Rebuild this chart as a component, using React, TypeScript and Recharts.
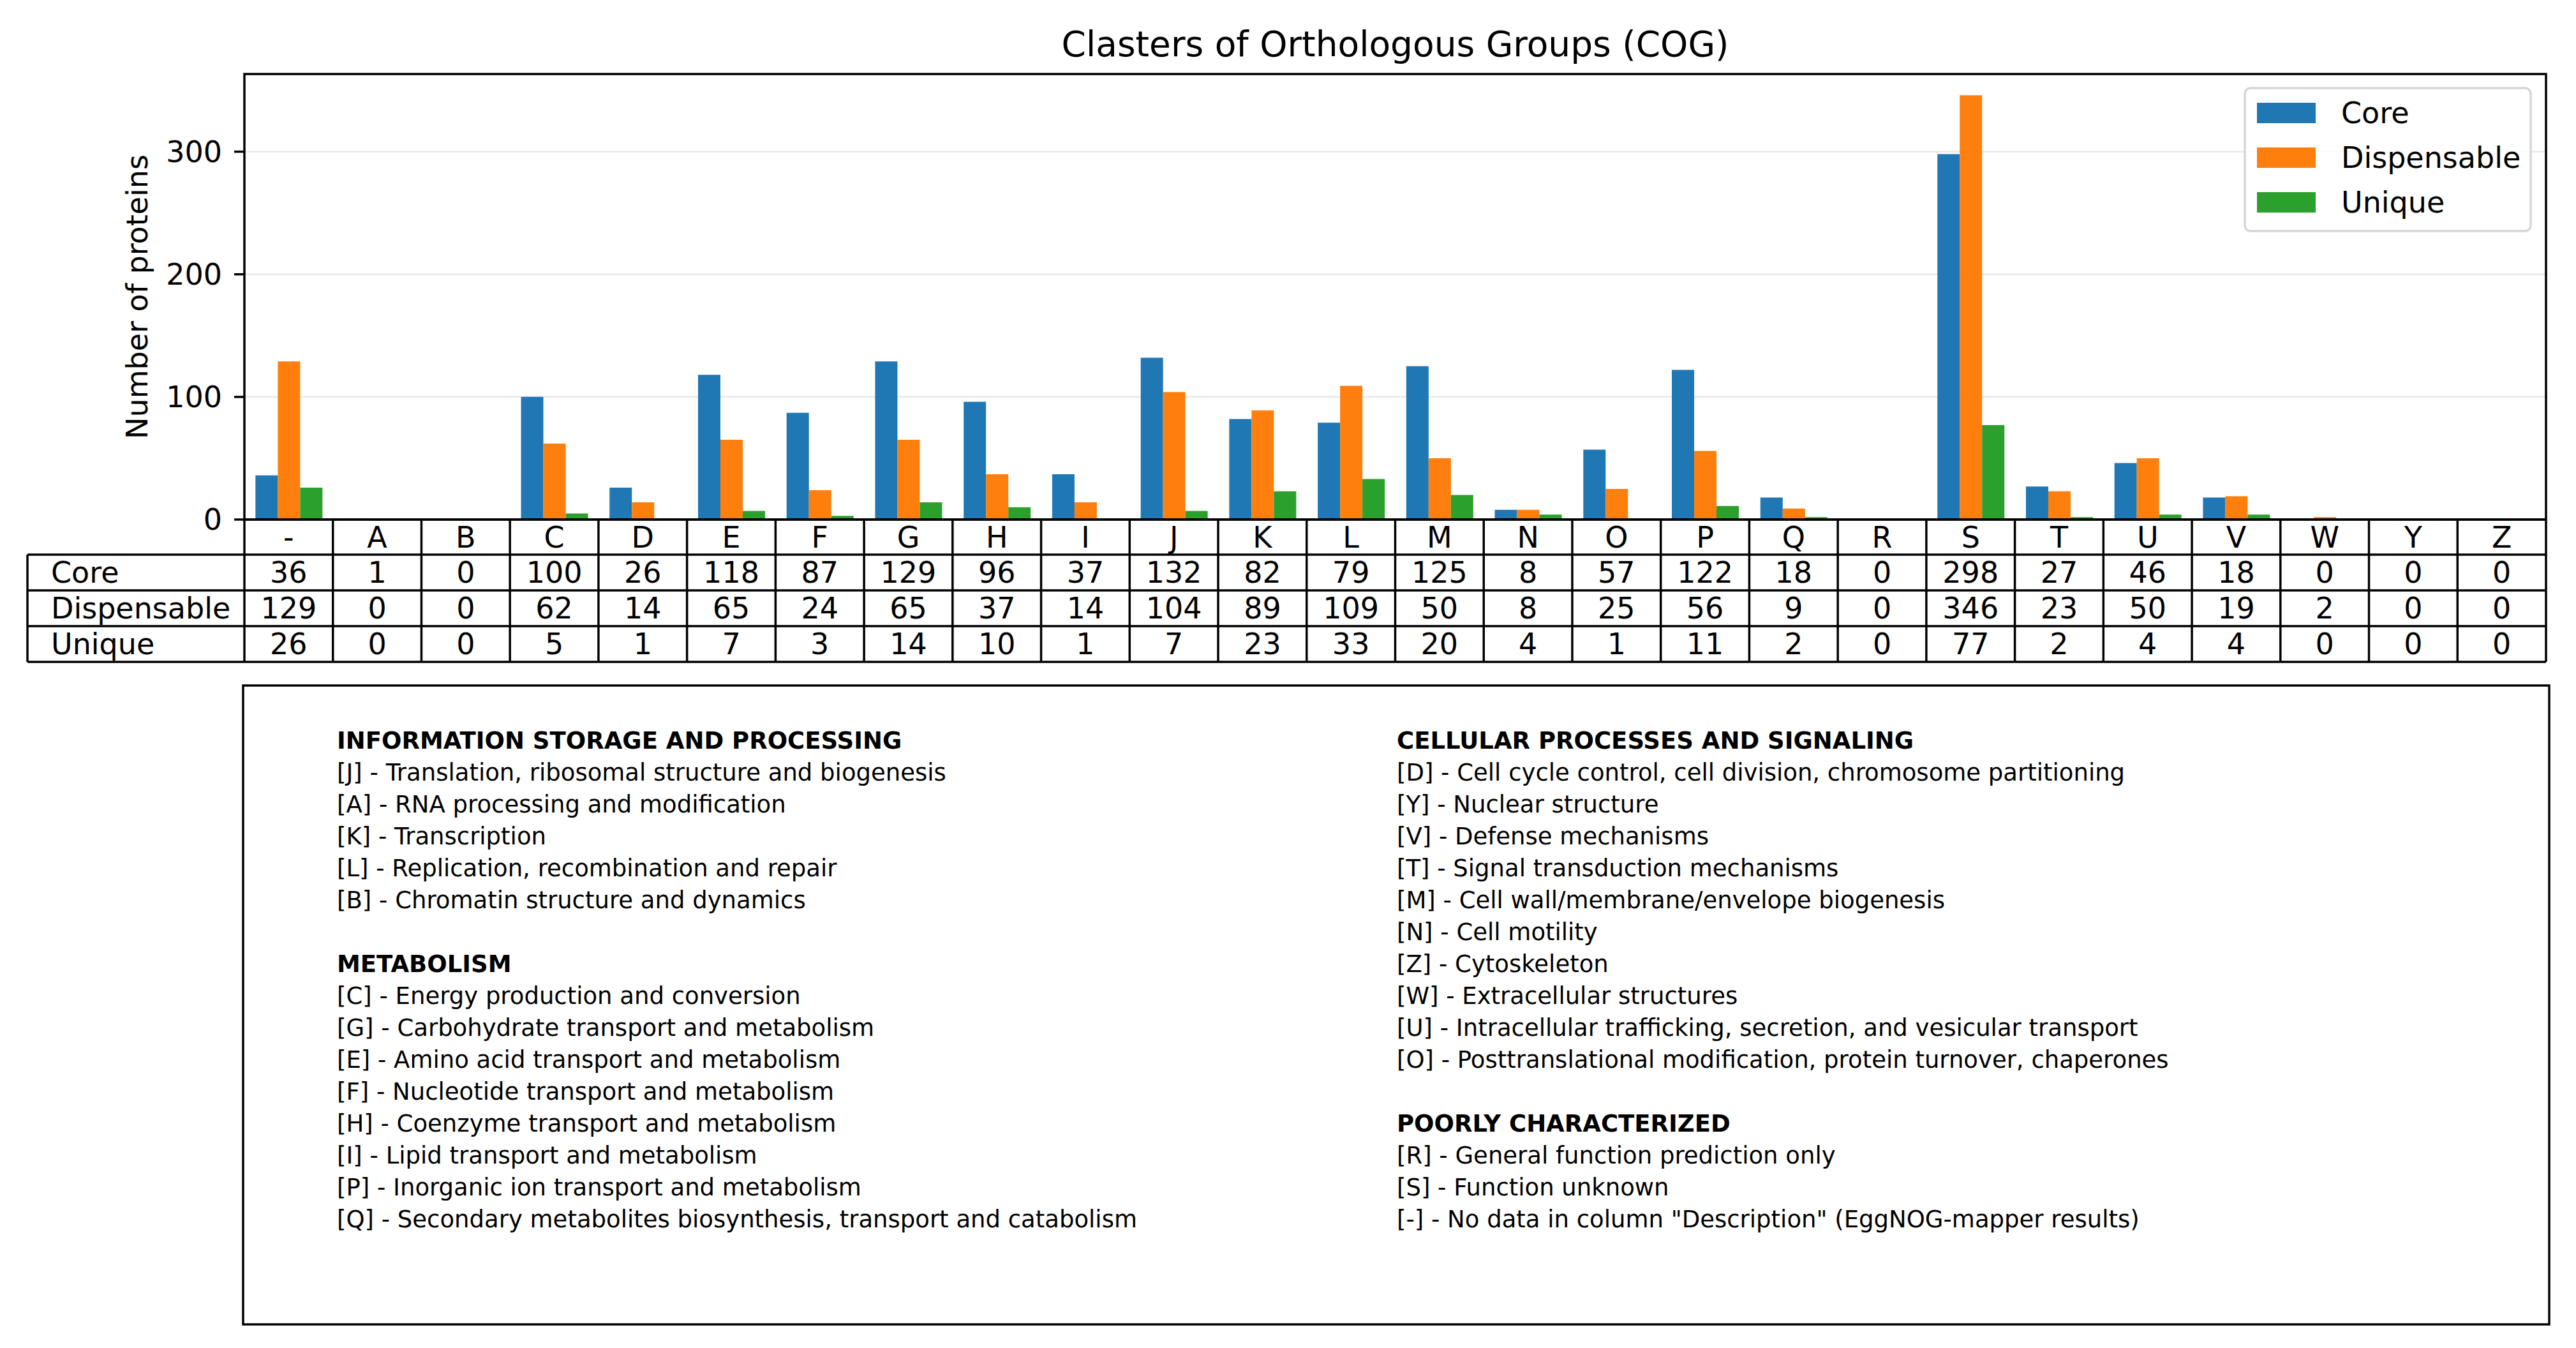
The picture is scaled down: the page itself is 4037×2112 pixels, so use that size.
import React from 'react';
import { BarChart, Bar, XAxis, YAxis, CartesianGrid } from 'recharts';

const categories = ['-', 'A', 'B', 'C', 'D', 'E', 'F', 'G', 'H', 'I', 'J', 'K', 'L', 'M', 'N', 'O', 'P', 'Q', 'R', 'S', 'T', 'U', 'V', 'W', 'Y', 'Z'];
const coreValues = [36, 1, 0, 100, 26, 118, 87, 129, 96, 37, 132, 82, 79, 125, 8, 57, 122, 18, 0, 298, 27, 46, 18, 0, 0, 0];
const dispensableValues = [129, 0, 0, 62, 14, 65, 24, 65, 37, 14, 104, 89, 109, 50, 8, 25, 56, 9, 0, 346, 23, 50, 19, 2, 0, 0];
const uniqueValues = [26, 0, 0, 5, 1, 7, 3, 14, 10, 1, 7, 23, 33, 20, 4, 1, 11, 2, 0, 77, 2, 4, 4, 0, 0, 0];
const yTicks = [0, 100, 200, 300];
const yMax = 363.3;

const seriesKeys = ['core', 'dispensable', 'unique'];
const seriesNames = ['Core', 'Dispensable', 'Unique'];
const seriesColors = ['#1f77b4', '#ff7f0e', '#2ca02c'];
const seriesValues = [coreValues, dispensableValues, uniqueValues];

const titleText = 'Clasters of Orthologous Groups (COG)';
const yAxisTitle = 'Number of proteins';

const leftColumnLines = [
  { bold: true, text: 'INFORMATION STORAGE AND PROCESSING' },
  { bold: false, text: '[J] - Translation, ribosomal structure and biogenesis' },
  { bold: false, text: '[A] - RNA processing and modification' },
  { bold: false, text: '[K] - Transcription' },
  { bold: false, text: '[L] - Replication, recombination and repair' },
  { bold: false, text: '[B] - Chromatin structure and dynamics' },
  { bold: false, text: '' },
  { bold: true, text: 'METABOLISM' },
  { bold: false, text: '[C] - Energy production and conversion' },
  { bold: false, text: '[G] - Carbohydrate transport and metabolism' },
  { bold: false, text: '[E] - Amino acid transport and metabolism' },
  { bold: false, text: '[F] - Nucleotide transport and metabolism' },
  { bold: false, text: '[H] - Coenzyme transport and metabolism' },
  { bold: false, text: '[I] - Lipid transport and metabolism' },
  { bold: false, text: '[P] - Inorganic ion transport and metabolism' },
  { bold: false, text: '[Q] - Secondary metabolites biosynthesis, transport and catabolism' },
];

const rightColumnLines = [
  { bold: true, text: 'CELLULAR PROCESSES AND SIGNALING' },
  { bold: false, text: '[D] - Cell cycle control, cell division, chromosome partitioning' },
  { bold: false, text: '[Y] - Nuclear structure' },
  { bold: false, text: '[V] - Defense mechanisms' },
  { bold: false, text: '[T] - Signal transduction mechanisms' },
  { bold: false, text: '[M] - Cell wall/membrane/envelope biogenesis' },
  { bold: false, text: '[N] - Cell motility' },
  { bold: false, text: '[Z] - Cytoskeleton' },
  { bold: false, text: '[W] - Extracellular structures' },
  { bold: false, text: '[U] - Intracellular trafficking, secretion, and vesicular transport' },
  { bold: false, text: '[O] - Posttranslational modification, protein turnover, chaperones' },
  { bold: false, text: '' },
  { bold: true, text: 'POORLY CHARACTERIZED' },
  { bold: false, text: '[R] - General function prediction only' },
  { bold: false, text: '[S] - Function unknown' },
  { bold: false, text: '[-] - No data in column "Description" (EggNOG-mapper results)' },
];

const data = categories.map((c, i) => ({
  category: c,
  core: coreValues[i],
  dispensable: dispensableValues[i],
  unique: uniqueValues[i],
}));

const W = 4037;
const H = 2112;
const plotLeft = 383;
const plotRight = 3990;
const plotTop = 116;
const plotBottom = 814;
const chartH = 860;
const colW = (plotRight - plotLeft) / categories.length;
const rowBounds = [814, 869, 925, 981, 1037];
const tableLeft = 43;
const lineW = 3.5;
const font = "'DejaVu Sans', sans-serif";

export default function App() {
  return (
    <div style={{ position: 'absolute', left: 0, top: 0, width: W, height: H, background: '#fff', fontFamily: font }}>
      <svg
        width={W}
        height={H}
        style={{ position: 'absolute', left: 0, top: 0 }}
        fontFamily={font}
      >
        {/* table background */}
        <rect x={tableLeft} y={rowBounds[1]} width={plotRight - tableLeft} height={rowBounds[4] - rowBounds[1]} fill="#fff" stroke="none" />
      </svg>
      <div style={{ position: 'absolute', left: 0, top: 0 }}>
        <BarChart
          width={W}
          height={chartH}
          data={data}
          margin={{ top: plotTop, right: W - plotRight, left: 0, bottom: chartH - plotBottom }}
          barCategoryGap="12.5%"
          barGap={0}
        >
          <CartesianGrid vertical={false} stroke="#ebebeb" strokeWidth={3} />
          <XAxis dataKey="category" hide />
          <YAxis
            type="number"
            width={plotLeft}
            domain={[0, yMax]}
            ticks={yTicks}
            interval={0}
            allowDataOverflow
            axisLine={false}
            tickSize={16}
            tickMargin={19}
            tickLine={{ stroke: '#000', strokeWidth: lineW }}
            tick={{ fontSize: 46, fill: '#000', fontFamily: font }}
          />
          {seriesKeys.map((k, i) => (
            <Bar key={k} dataKey={k} name={seriesNames[i]} fill={seriesColors[i]} isAnimationActive={false} />
          ))}
        </BarChart>
      </div>
      <svg
        width={W}
        height={H}
        style={{ position: 'absolute', left: 0, top: 0, pointerEvents: 'none' }}
        fontFamily={font}
      >
        {/* title */}
        <text x={(plotLeft + plotRight) / 2} y={88} fontSize={55} textAnchor="middle" fill="#000">
          {titleText}
        </text>
        {/* y axis label */}
        <text
          x={215}
          y={(plotTop + plotBottom) / 2}
          fontSize={46}
          textAnchor="middle"
          dominantBaseline="central"
          transform={`rotate(-90, 215, ${(plotTop + plotBottom) / 2})`}
          fill="#000"
        >
          {yAxisTitle}
        </text>
        {/* axes frame */}
        <rect
          x={plotLeft}
          y={plotTop}
          width={plotRight - plotLeft}
          height={plotBottom - plotTop}
          fill="none"
          stroke="#000"
          strokeWidth={lineW}
        />
        {/* legend */}
        <rect x={3518} y={138} width={448} height={224} rx={9} ry={9} fill="#fff" fillOpacity={0.8} stroke="#d6d6d6" strokeWidth={3.5} />
        {seriesNames.map((n, i) => (
          <g key={n}>
            <rect x={3537} y={161 + i * 70} width={92} height={32} fill={seriesColors[i]} />
            <text x={3669} y={193 + i * 70} fontSize={46} fill="#000">
              {n}
            </text>
          </g>
        ))}
        {/* table */}
        <rect x={plotLeft + 2} y={rowBounds[0] + 2} width={plotRight - plotLeft - 4} height={rowBounds[1] - rowBounds[0] - 4} fill="#fff" stroke="none" />
        {rowBounds.map((y, i) => (
          <line
            key={'h' + i}
            x1={i === 0 ? plotLeft : tableLeft}
            x2={plotRight}
            y1={y}
            y2={y}
            stroke="#000"
            strokeWidth={lineW}
          />
        ))}
        <line x1={tableLeft} x2={tableLeft} y1={rowBounds[1]} y2={rowBounds[4]} stroke="#000" strokeWidth={lineW} />
        {categories.map((c, i) => (
          <line
            key={'v' + i}
            x1={plotLeft + i * colW}
            x2={plotLeft + i * colW}
            y1={rowBounds[0]}
            y2={rowBounds[4]}
            stroke="#000"
            strokeWidth={lineW}
          />
        ))}
        <line x1={plotRight} x2={plotRight} y1={rowBounds[0]} y2={rowBounds[4]} stroke="#000" strokeWidth={lineW} />
        {categories.map((c, i) => (
          <text
            key={'c' + i}
            x={plotLeft + (i + 0.5) * colW}
            y={(rowBounds[0] + rowBounds[1]) / 2}
            fontSize={46}
            textAnchor="middle"
            dominantBaseline="central"
            fill="#000"
          >
            {c}
          </text>
        ))}
        {seriesNames.map((n, r) => (
          <g key={'r' + r}>
            <text x={80} y={(rowBounds[r + 1] + rowBounds[r + 2]) / 2} fontSize={46} dominantBaseline="central" fill="#000">
              {n}
            </text>
            {seriesValues[r].map((v, i) => (
              <text
                key={i}
                x={plotLeft + (i + 0.5) * colW}
                y={(rowBounds[r + 1] + rowBounds[r + 2]) / 2}
                fontSize={46}
                textAnchor="middle"
                dominantBaseline="central"
                fill="#000"
              >
                {v}
              </text>
            ))}
          </g>
        ))}
        {/* description box */}
        <rect x={381} y={1074} width={3995 - 381} height={2075 - 1074} fill="none" stroke="#000" strokeWidth={lineW} />
        {leftColumnLines.map((l, i) => (
          <text key={'L' + i} x={528} y={1173 + i * 50} fontSize={37} fontWeight={l.bold ? 'bold' : 'normal'} fill="#000">
            {l.text}
          </text>
        ))}
        {rightColumnLines.map((l, i) => (
          <text key={'R' + i} x={2189} y={1173 + i * 50} fontSize={37} fontWeight={l.bold ? 'bold' : 'normal'} fill="#000">
            {l.text}
          </text>
        ))}
      </svg>
    </div>
  );
}
